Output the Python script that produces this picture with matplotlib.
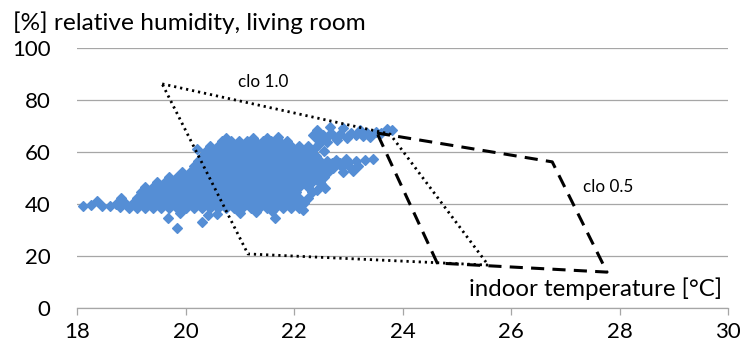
import matplotlib
matplotlib.use("Agg")
import matplotlib.pyplot as plt

# Living room readings: indoor temperature [°C] against relative humidity [%]
# Dense part of the cloud, one temperature list per humidity band
band_rh = [38.5, 40.5, 42.5, 44.5, 46.5, 48.5, 50.5, 52.5, 54.5, 56.5, 58.5, 60.5, 62.5, 64.2]
band_38 = [18.95, 19.1, 19.25, 19.4, 19.55, 19.7, 19.85, 20.0, 20.15, 20.3, 20.45, 20.6, 20.75,
           20.9, 21.05, 21.2, 21.35, 21.5, 21.65, 21.8, 21.95, 22.1]
band_40 = [18.88, 19.03, 19.18, 19.33, 19.48, 19.63, 19.78, 19.93, 20.08, 20.23, 20.38, 20.53,
           20.68, 20.83, 20.98, 21.13, 21.28, 21.43, 21.58, 21.73, 21.88, 22.03, 22.18]
band_42 = [19.1, 19.25, 19.4, 19.55, 19.7, 19.85, 20.0, 20.15, 20.3, 20.45, 20.6, 20.75, 20.9,
           21.05, 21.2, 21.35, 21.5, 21.65, 21.8, 21.95, 22.1, 22.25]
band_44 = [19.18, 19.33, 19.48, 19.63, 19.78, 19.93, 20.08, 20.23, 20.38, 20.53, 20.68, 20.83,
           20.98, 21.13, 21.28, 21.43, 21.58, 21.73, 21.88, 22.03, 22.33]
band_46 = [19.25, 19.4, 19.55, 19.7, 19.85, 20.0, 20.15, 20.3, 20.45, 20.6, 20.75, 20.9, 21.05,
           21.2, 21.35, 21.5, 21.65, 21.8, 21.95, 22.1, 22.25]
band_48 = [19.48, 19.63, 19.78, 19.93, 20.08, 20.23, 20.38, 20.53, 20.68, 20.83, 20.98, 21.13,
           21.28, 21.43, 21.58, 21.73, 21.88, 22.03, 22.18, 22.33, 22.48]
band_50 = [19.7, 19.85, 20.0, 20.15, 20.3, 20.45, 20.6, 20.75, 20.9, 21.05, 21.2, 21.35, 21.5,
           21.65, 21.8, 21.95, 22.1, 22.25, 22.4, 22.55]
band_52 = [19.93, 20.08, 20.23, 20.38, 20.53, 20.68, 20.83, 20.98, 21.13, 21.28, 21.43, 21.58,
           21.73, 21.88, 22.03, 22.18, 22.33, 22.48, 22.63]
band_54 = [20.15, 20.3, 20.45, 20.6, 20.75, 20.9, 21.05, 21.2, 21.35, 21.5, 21.65, 21.8, 21.95,
           22.1, 22.25, 22.4, 22.55, 22.7]
band_56 = [20.23, 20.38, 20.53, 20.68, 20.83, 20.98, 21.13, 21.28, 21.43, 21.58, 21.73, 21.88,
           22.03, 22.18, 22.33, 22.48, 22.6]
band_58 = [20.3, 20.45, 20.6, 20.75, 20.9, 21.05, 21.2, 21.35, 21.5, 21.65, 21.8, 21.95, 22.1,
           22.25, 22.4]
band_60 = [20.38, 20.53, 20.68, 20.83, 20.98, 21.13, 21.28, 21.43, 21.58, 21.73, 21.88, 22.03,
           22.18, 22.33]
band_62 = [20.45, 20.6, 20.75, 20.9, 21.05, 21.2, 21.35, 21.5, 21.65, 21.8, 21.95, 22.1, 22.25]
band_64 = [20.68, 20.83, 20.98, 21.13, 21.28, 21.43, 21.58, 21.73, 21.88]
bands = [band_38, band_40, band_42, band_44, band_46, band_48, band_50, band_52, band_54,
         band_56, band_58, band_60, band_62, band_64]

# Scattered readings around the cloud
tail_t = [18.11, 18.25, 18.36, 18.47, 18.6, 18.72, 18.82, 18.8]
tail_rh = [39.2, 39.8, 41.2, 39.4, 39.2, 40.0, 42.3, 38.8]
low_t = [19.68, 19.84, 20.3, 19.9, 20.42, 20.58, 21.0, 21.59, 21.65, 22.17, 21.3]
low_rh = [34.5, 30.6, 33.0, 36.4, 35.8, 36.0, 36.6, 37.2, 34.5, 37.8, 36.8]
peak_t = [21.7, 21.25, 20.75, 20.22, 21.5]
peak_rh = [65.8, 65.2, 65.3, 61.2, 65.5]
side_t = [22.42, 22.57, 22.5]
side_rh = [45.4, 46.2, 47.8]
branch_t = [22.7, 22.85, 23.0, 23.15, 23.3, 23.45, 22.72, 22.88, 23.03, 23.18, 22.9, 23.08,
            22.78, 22.95]
branch_rh = [55.6, 55.9, 56.2, 56.5, 56.8, 57.2, 53.8, 54.1, 54.4, 54.8, 52.4, 52.6,
             57.0, 57.4]
warm_t = [22.42, 22.66, 22.53, 22.9, 22.79, 22.97, 23.15, 23.34, 23.52, 23.71, 23.22, 23.4,
          22.6, 22.39, 22.7, 23.05, 23.6, 23.8, 22.45, 22.85, 22.35, 22.47, 23.0, 23.27,
          22.62, 22.55]
warm_rh = [68.5, 69.5, 66.5, 69.2, 64.6, 65.3, 66.5, 67.2, 67.8, 68.9, 68.5, 65.9,
           64.0, 61.5, 67.0, 67.5, 67.2, 68.4, 64.5, 66.8, 66.4, 63.0, 66.2, 66.0,
           66.0, 60.2]

# Comfort zones for two clothing levels
clo10_t = [19.57, 23.77, 25.58, 21.15, 19.57]
clo10_rh = [86.2, 66.9, 16.5, 20.8, 86.2]
clo05_t = [23.53, 26.76, 27.77, 24.64, 23.53]
clo05_rh = [67.3, 56.2, 13.8, 17.3, 67.3]

x_ticks = [18, 20, 22, 24, 26, 28, 30]
y_ticks = [0, 20, 40, 60, 80, 100]

temp = []
rh = []
for level, row in zip(band_rh, bands):
    temp += row
    rh += [level] * len(row)
for tt, rr in [(tail_t, tail_rh), (low_t, low_rh), (peak_t, peak_rh), (side_t, side_rh),
               (branch_t, branch_rh), (warm_t, warm_rh)]:
    temp += tt
    rh += rr

plt.rcParams["font.family"] = ["Lato", "DejaVu Sans"]
fig = plt.figure(figsize=(7.4, 3.52), dpi=100)
ax = fig.add_axes([77 / 740, 44 / 352, 651 / 740, 260 / 352])

blue = "#558ED5"
grid_c = "#A6A6A6"
ax.plot(temp, rh, linestyle="none", marker="D", ms=5.6, mfc=blue, mec=blue, mew=0.9, zorder=2)
ax.plot(clo10_t, clo10_rh, color="black", lw=2.0, linestyle=(0, (0.8, 1.4)), zorder=3)
ax.plot(clo05_t, clo05_rh, color="black", lw=2.2, linestyle=(0, (4.3, 2.7)), zorder=3)

ax.text(20.97, 85, "clo 1.0", fontsize=12.3, ha="left", va="baseline")
ax.text(27.33, 44.6, "clo 0.5", fontsize=12.3, ha="left", va="baseline")

ax.set_xlim(18, 30)
ax.set_ylim(0, 100)
ax.set_xticks(x_ticks)
ax.set_yticks(y_ticks)
ax.set_xticklabels([str(v) for v in x_ticks], fontsize=16)
ax.set_yticklabels([str(v) for v in y_ticks], fontsize=16)
ax.yaxis.grid(True, color=grid_c, lw=0.9)
ax.set_axisbelow(True)
for side in ["top", "right", "left"]:
    ax.spines[side].set_visible(False)
ax.spines["bottom"].set_color(grid_c)
ax.spines["bottom"].set_linewidth(0.9)
ax.tick_params(axis="y", length=0, pad=19)
ax.tick_params(axis="x", direction="out", length=5, width=0.9, color=grid_c, pad=5)

fig.text(13 / 740, 1 - 30 / 352, "[%] relative humidity, living room", fontsize=17.6,
         ha="left", va="baseline")
fig.text(722 / 740, 1 - 296 / 352, "indoor temperature [°C]", fontsize=17.3,
         ha="right", va="baseline")

fig.savefig("out.png", dpi=100)
